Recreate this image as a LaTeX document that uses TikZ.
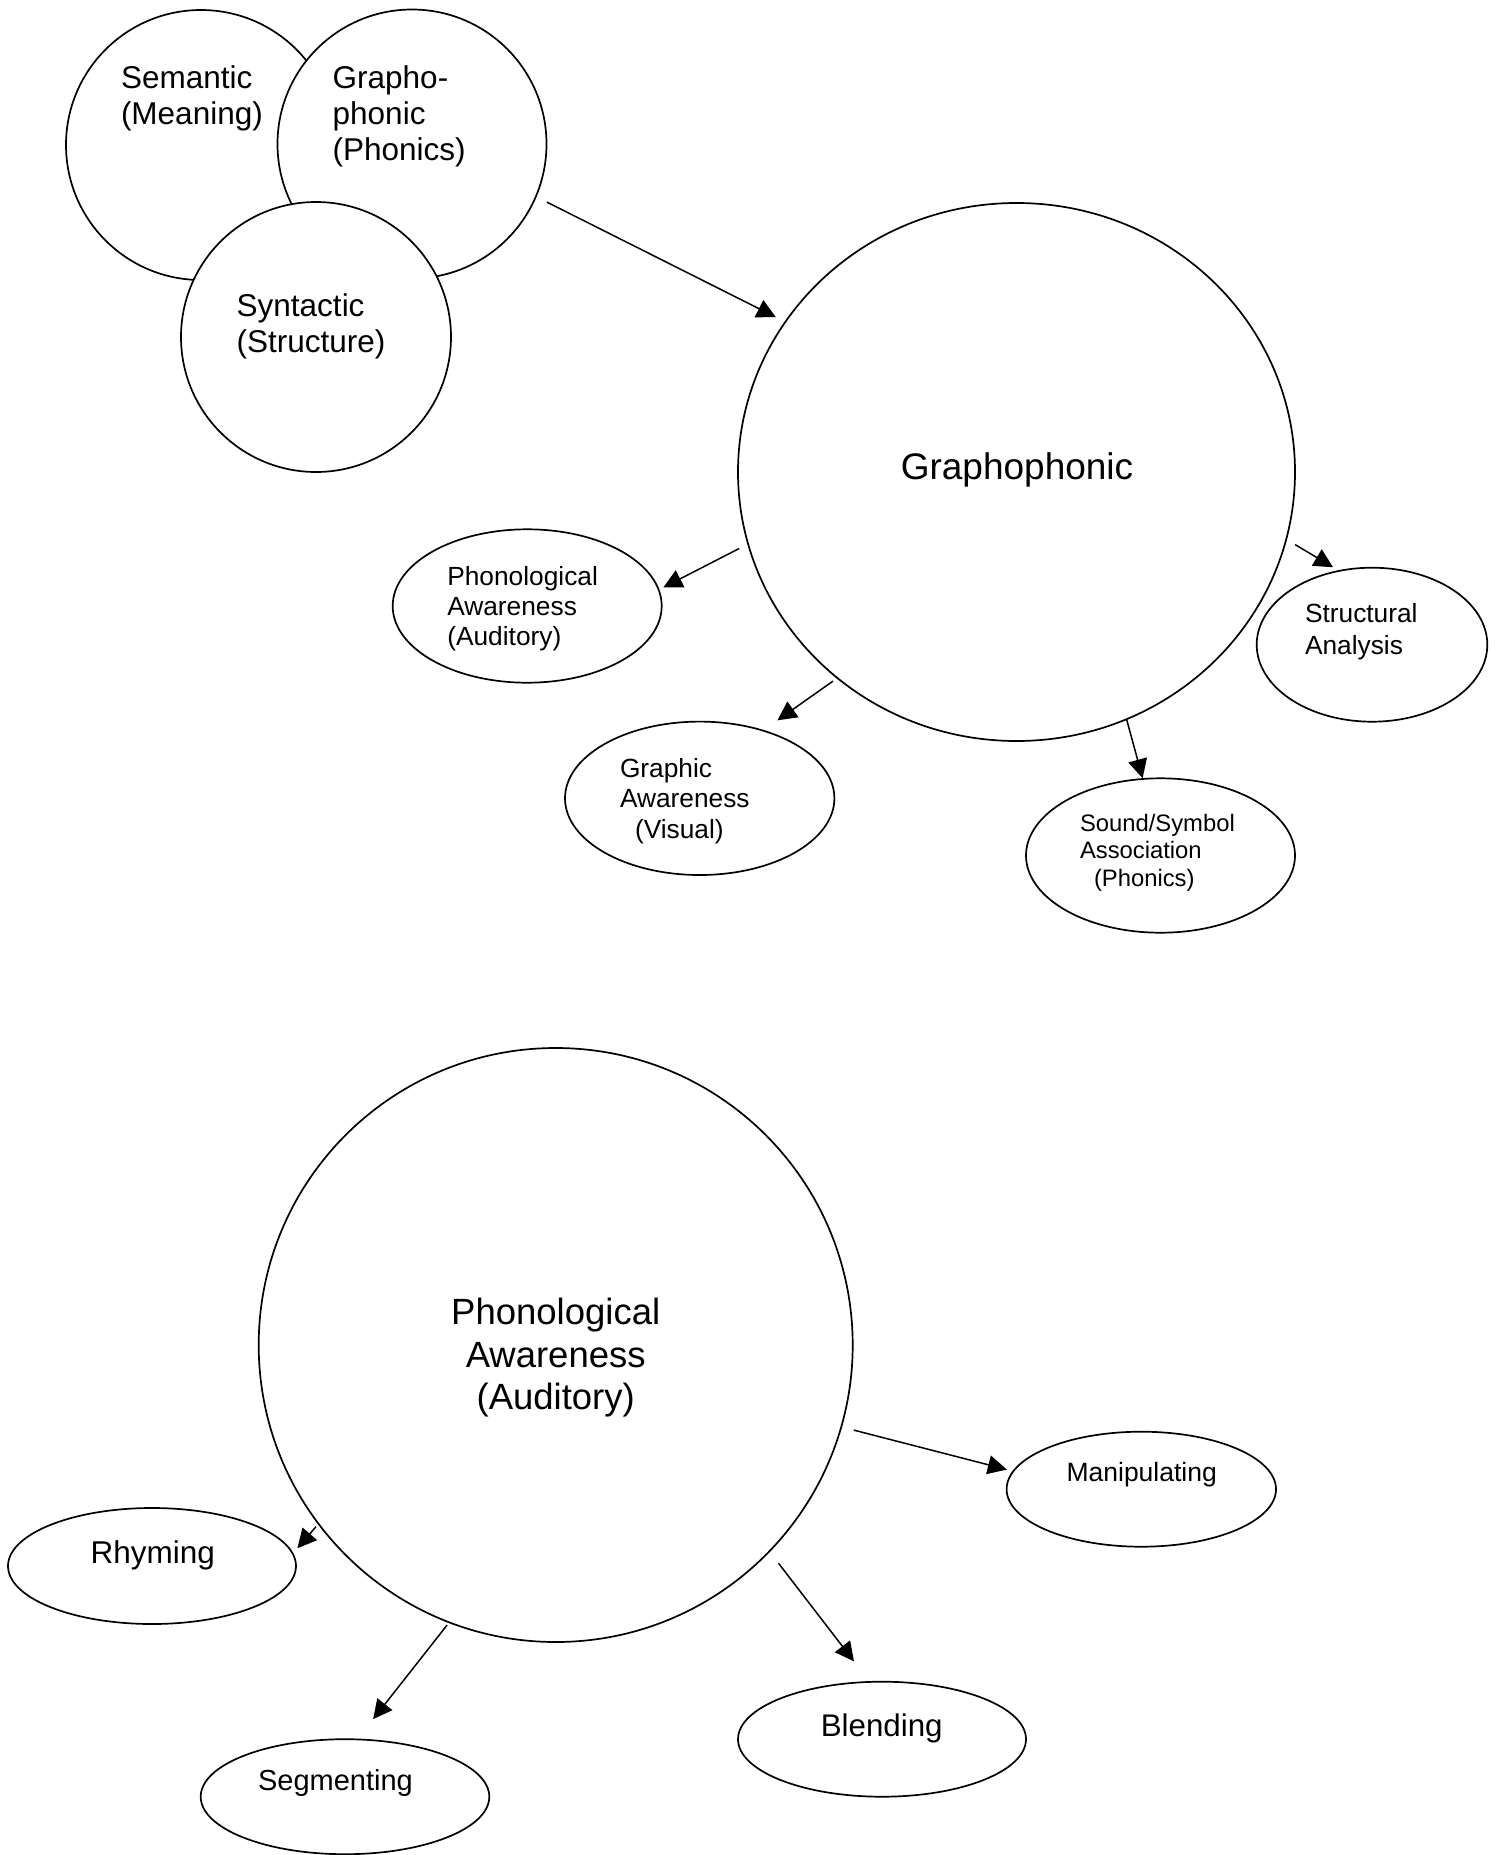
\documentclass[tikz,border=0pt]{standalone}
\usepackage{fontspec}
\setmainfont{Liberation Sans}
\usetikzlibrary{arrows.meta,shapes.geometric}
\newcommand\fs[2]{\fontsize{#1pt}{#2pt}\selectfont}
\newcommand\lft[1]{\vtop{\halign{##\hfil\cr#1\crcr}}}
\newcommand\ctr[1]{\vtop{\halign{\hfil##\hfil\cr#1\crcr}}}
\begin{document}
\begin{tikzpicture}[x=1pt,y=-1pt,
  shp/.style={draw, line width=1.7pt, fill=white, inner sep=0pt, outer sep=0pt},
  circ/.style={shp, circle, minimum size=#1},
  ell/.style 2 args={shp, ellipse, minimum width=#1, minimum height=#2},
  txt/.style={inner sep=0pt, outer sep=0pt},
  arr/.style={line width=1.5pt, -{Triangle[length=19pt,width=19pt]}}]
\fill[white] (0,0) rectangle (1502,1855);
\useasboundingbox (0,0) rectangle (1502,1855);

% shapes
\node[circ=270pt] (sem) at (201,145) {};
\node[circ=269pt] (grs) at (412,144) {};
\node[circ=270pt] (syn) at (316,337) {};
\node[ell={557pt}{538pt}] (gbig) at (1016.5,472) {};
\node[ell={269pt}{153.4pt}] (phon) at (527.2,606) {};
\node[ell={269.4pt}{153.4pt}] (graph) at (699.7,798.3) {};
\node[ell={269pt}{154.4pt}] (sound) at (1160.5,855.5) {};
\node[ell={230.6pt}{154pt}] (struct) at (1372,644.7) {};
\node[circ=594pt] (pbig) at (555.7,1345) {};
\node[ell={269.4pt}{115pt}] (manip) at (1141.3,1489.2) {};
\node[ell={288pt}{116pt}] (rhym) at (152,1566) {};
\node[ell={288.6pt}{115pt}] (seg) at (345,1796.7) {};
\node[ell={288pt}{115pt}] (blend) at (882,1739.2) {};

% connectors
\draw[arr, shorten <=12.4pt, shorten >=10.6pt] (grs.-23.6) -- (gbig.147);
\draw[arr, shorten <=10.1pt, shorten >=5.15pt] (gbig.195) -- (phon.7.7);
\draw[arr, shorten <=5.4pt, shorten >=17.8pt] (gbig.229.6) -- (graph.47);
\draw[arr, shorten >=0.75pt] (gbig.-66.9) -- (sound.103.6);
\draw[arr, shorten <=10.5pt, shorten >=7.1pt] (gbig.-14.9) -- (struct.114.1);
\draw[arr, shorten <=13pt, shorten >=6.7pt] (pbig.-16.3) -- (manip.172.55);
\draw[arr, shorten <=3.8pt, shorten >=7.2pt] (pbig.217.05) -- (rhym.5.77);
\draw[arr, shorten <=3.5pt, shorten >=25.85pt] (pbig.249.4) -- (seg.78.1);
\draw[arr, shorten <=15pt, shorten >=25.95pt] (pbig.-44.78) -- (blend.102.2);

% texts
\node[txt, anchor=base west, font=\fs{31.5}{36}] (tsem) at (121,88) {\lft{Semantic\cr(Meaning)}};
\node[txt, anchor=base west, font=\fs{31.5}{36.3}] (tgrs) at (332.7,88) {\lft{Grapho-\cr phonic\cr(Phonics)}};
\node[txt, anchor=base west, font=\fs{31.5}{36}] (tsyn) at (236.7,316) {\lft{Syntactic\cr(Structure)}};
\node[txt, anchor=base, font=\fs{37}{44}] (tgbig) at (1017,479) {Graphophonic};
\node[txt, anchor=base west, font=\fs{26.3}{30}] (tphon) at (447.3,585) {\lft{Phonological\cr Awareness\cr(Auditory)}};
\node[txt, anchor=base west, font=\fs{26.3}{30.8}] (tgraph) at (620,777) {\lft{Graphic\cr Awareness\cr\hskip15pt(Visual)}};
\node[txt, anchor=base west, font=\fs{23.8}{27.2}] (tsound) at (1080,831.7) {\lft{Sound/Symbol\cr Association\cr\hskip14pt(Phonics)}};
\node[txt, anchor=base west, font=\fs{26.3}{31.3}] (tstruct) at (1305,622.7) {\lft{Structural\cr Analysis}};
\node[txt, anchor=base, font=\fs{36.5}{42.5}] (tpbig) at (555.7,1324.7) {\ctr{Phonological\cr Awareness\cr(Auditory)}};
\node[txt, anchor=base, font=\fs{26.5}{31}] (tmanip) at (1141.7,1481) {Manipulating};
\node[txt, anchor=base, font=\fs{31.5}{36}] (trhym) at (152.8,1563.3) {Rhyming};
\node[txt, anchor=base, font=\fs{29}{34}] (tseg) at (335.5,1790.7) {Segmenting};
\node[txt, anchor=base, font=\fs{31.3}{36}] (tblend) at (881.7,1736.7) {Blending};
\end{tikzpicture}
\end{document}
